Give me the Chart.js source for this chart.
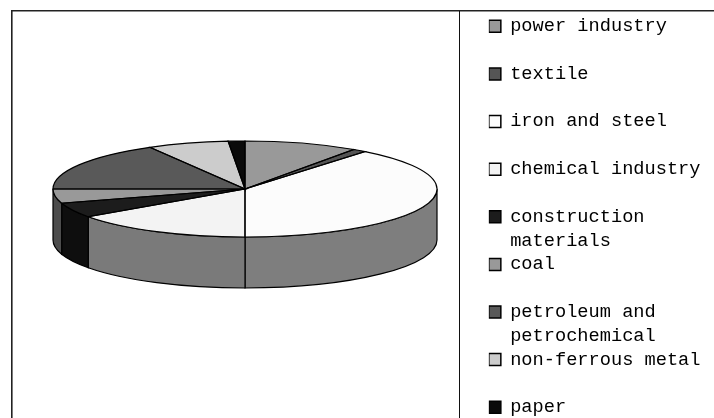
<!DOCTYPE html>
<html><head><meta charset="utf-8">
<script src="https://cdn.jsdelivr.net/npm/chart.js@4"></script>
<style>
html,body{margin:0;padding:0;background:#fff;overflow:hidden}
#wrap{position:relative;width:714px;height:418px;overflow:hidden}
</style></head><body>
<div id="wrap"><canvas id="c" width="714" height="480" style="display:block;width:714px;height:480px"></canvas></div>
<script>
const categories = ["power industry","textile","iron and steel","chemical industry","construction materials","coal","petroleum and petrochemical","non-ferrous metal","paper"];
const legendLines = [["power industry",""],["textile",""],["iron and steel",""],["chemical industry",""],["construction","materials"],["coal",""],["petroleum and","petrochemical"],["non-ferrous metal",""],["paper",""]];
const shares = [9.6,1.15,39.25,15.2,5.0,4.8,16.75,6.85,1.4];
const topColors = ["#999999","#555555","#fcfcfc","#f3f3f3","#1c1c1c","#999999","#595959","#cccccc","#0a0a0a"];
const sideColors = ["#4d4d4d","#2a2a2a","#7e7e7e","#7a7a7a","#0e0e0e","#4d4d4d","#2d2d2d","#666666","#050505"];
const pie3d = {cx:245, cy:189, rx:192, ry:48, depth:51};

const projection = {
  id:'projection',
  beforeDatasetsDraw(chart){
    const ctx = chart.ctx, arcs = chart.getDatasetMeta(0).data, p = pie3d;
    // frame
    ctx.save();
    ctx.strokeStyle='#222'; ctx.lineWidth=1.6;
    ctx.beginPath();
    ctx.moveTo(714,10.8); ctx.lineTo(11.8,10.8); ctx.lineTo(11.8,418);
    ctx.stroke();
    ctx.lineWidth=1; ctx.strokeStyle='#111';
    ctx.beginPath();
    ctx.moveTo(459.5,11); ctx.lineTo(459.5,418);
    ctx.stroke();
    ctx.restore();
    // side walls
    ctx.save();
    ctx.lineWidth=1.2; ctx.strokeStyle='#000';
    arcs.forEach((el,i)=>{
      const segs=[[el.startAngle,el.endAngle],[el.startAngle-2*Math.PI,el.endAngle-2*Math.PI]];
      segs.forEach(([s,e])=>{
        const a=Math.max(s,0), b=Math.min(e,Math.PI);
        if(b<=a) return;
        ctx.beginPath();
        ctx.ellipse(p.cx,p.cy,p.rx,p.ry,0,a,b);
        ctx.ellipse(p.cx,p.cy+p.depth,p.rx,p.ry,0,b,a,true);
        ctx.closePath();
        ctx.fillStyle=sideColors[i];
        ctx.fill(); ctx.stroke();
      });
    });
    ctx.restore();
    // flatten the pie into its ellipse
    const el=arcs[0], R=el.outerRadius;
    ctx.save();
    ctx.translate(p.cx,p.cy);
    ctx.scale(p.rx/R,p.ry/R);
    ctx.translate(-el.x,-el.y);
  },
  afterDatasetsDraw(chart){
    const ctx=chart.ctx, arcs=chart.getDatasetMeta(0).data, p=pie3d;
    ctx.restore();
    ctx.save();
    ctx.lineWidth=1.2; ctx.strokeStyle='#000';
    arcs.forEach(el=>{
      ctx.beginPath();
      ctx.moveTo(p.cx,p.cy);
      ctx.ellipse(p.cx,p.cy,p.rx,p.ry,0,el.startAngle,el.endAngle);
      ctx.closePath();
      ctx.stroke();
    });
    ctx.restore();
  }
};

new Chart(document.getElementById('c'),{
  type:'pie',
  data:{labels:categories,datasets:[{data:shares,backgroundColor:topColors,borderWidth:0,clip:false}]},
  plugins:[projection],
  options:{
    responsive:false,animation:false,events:[],
    layout:{padding:{top:17,right:3.5,left:0,bottom:0}},
    plugins:{
      tooltip:{enabled:false},
      legend:{
        position:'right',align:'start',
        labels:{
          boxWidth:12,boxHeight:12,padding:0,color:'#222',
          font:{family:'"Liberation Mono"',size:18.67,lineHeight:1.275},
          generateLabels(){
            return categories.map((c,i)=>({text:legendLines[i],fillStyle:topColors[i],strokeStyle:'#000',lineWidth:1.5,hidden:false,index:i}));
          }
        }
      }
    }
  }
});
</script></body></html>
